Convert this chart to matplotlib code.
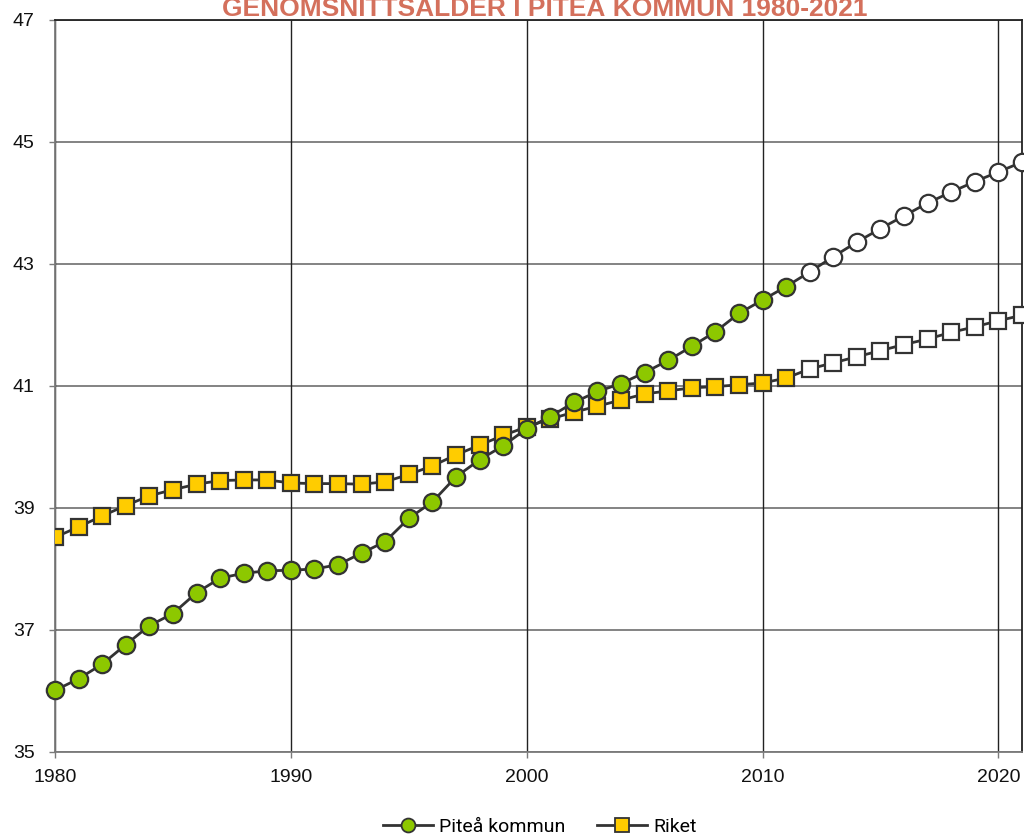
import matplotlib
matplotlib.use("Agg")
import matplotlib.pyplot as plt
from matplotlib.lines import Line2D

years = list(range(1980, 2022))
pitea = [36.01, 36.20, 36.44, 36.76, 37.07, 37.27, 37.61, 37.85, 37.93, 37.97,
         37.98, 38.00, 38.07, 38.26, 38.45, 38.83, 39.10, 39.51, 39.79, 40.02,
         40.30, 40.50, 40.73, 40.91, 41.04, 41.22, 41.42, 41.65, 41.89, 42.19,
         42.41, 42.63, 42.87, 43.12, 43.36, 43.58, 43.79, 44.00, 44.18, 44.35,
         44.51, 44.67]
riket = [38.52, 38.69, 38.87, 39.04, 39.20, 39.30, 39.39, 39.45, 39.46, 39.46,
         39.41, 39.40, 39.40, 39.39, 39.43, 39.55, 39.69, 39.87, 40.03, 40.19,
         40.33, 40.46, 40.57, 40.67, 40.77, 40.87, 40.92, 40.97, 40.99, 41.02,
         41.05, 41.13, 41.28, 41.38, 41.48, 41.58, 41.68, 41.77, 41.88, 41.97,
         42.07, 42.16]
n_actual = 32  # 1980-2011 filled markers, later ones open (prognosis)
title = "GENOMSNITTSÅLDER I PITEÅ KOMMUN 1980-2021"
series_names = ["Piteå kommun", "Riket"]
xticks = [1980, 1990, 2000, 2010, 2020]
yticks = [35, 37, 39, 41, 43, 45, 47]

green = "#8DC800"
yellow = "#FFCC00"
edge = "#333333"

fig = plt.figure(figsize=(10.24, 8.34), dpi=100)
ax = fig.add_axes([55/1024, 82/834, 967/1024, 732/834])

ax.set_xlim(1980, 2021)
ax.set_ylim(35, 47)
ax.set_xticks(xticks)
ax.set_yticks(yticks)
for y in yticks:
    ax.axhline(y, color="#7a7a7a", lw=1.3, zorder=1)
for x in xticks:
    ax.axvline(x, color="#222222", lw=1.0, zorder=1)

ms_c = 12.5
ms_s = 11.5
# Riket line + markers
ax.plot(years, riket, color=edge, lw=2, zorder=3)
ax.plot(years[:n_actual], riket[:n_actual], ls="none", marker="s", ms=ms_s,
        mfc=yellow, mec=edge, mew=1.6, zorder=4)
ax.plot(years[n_actual:], riket[n_actual:], ls="none", marker="s", ms=ms_s,
        mfc="white", mec=edge, mew=1.6, zorder=4, clip_on=False)
# Piteå line + markers
ax.plot(years, pitea, color=edge, lw=2, zorder=5)
ax.plot(years[:n_actual], pitea[:n_actual], ls="none", marker="o", ms=ms_c,
        mfc=green, mec=edge, mew=1.6, zorder=6, clip_on=False)
ax.plot(years[n_actual:], pitea[n_actual:], ls="none", marker="o", ms=ms_c,
        mfc="white", mec=edge, mew=1.6, zorder=6, clip_on=False)

for s in ["left", "bottom"]:
    ax.spines[s].set_color("#7a7a7a")
    ax.spines[s].set_linewidth(1.3)
for s in ["top", "right"]:
    ax.spines[s].set_color("#222222")
    ax.spines[s].set_linewidth(1.3)

ax.tick_params(axis="both", length=4.5, width=1, color="#7a7a7a",
               labelsize=14, labelcolor="#111111")
ax.tick_params(axis="y", pad=10)
ax.tick_params(axis="x", pad=8)
for lab in ax.get_xticklabels() + ax.get_yticklabels():
    lab.set_fontfamily(["Liberation Sans", "DejaVu Sans"])

fig.text(545, 834 - 16, title, transform=None, ha="center", va="baseline",
         fontsize=19, fontweight="bold", color="#D4705C",
         family=["Liberation Sans Narrow", "Liberation Sans", "DejaVu Sans"])

handles = [
    Line2D([0], [0], color=edge, lw=2, marker="o", ms=10, mfc=green, mec=edge, mew=1.3),
    Line2D([0], [0], color=edge, lw=2, marker="s", ms=9.5, mfc=yellow, mec=edge, mew=1.3),
]
fig.legend(handles, series_names, loc="center", bbox_to_anchor=(0.527, 7/834),
           ncol=2, frameon=False, handlelength=2.6,
           columnspacing=1.6, handletextpad=0.3,
           prop={"family": ["Roboto", "DejaVu Sans"], "size": 14})

fig.savefig("out.png", dpi=100)
